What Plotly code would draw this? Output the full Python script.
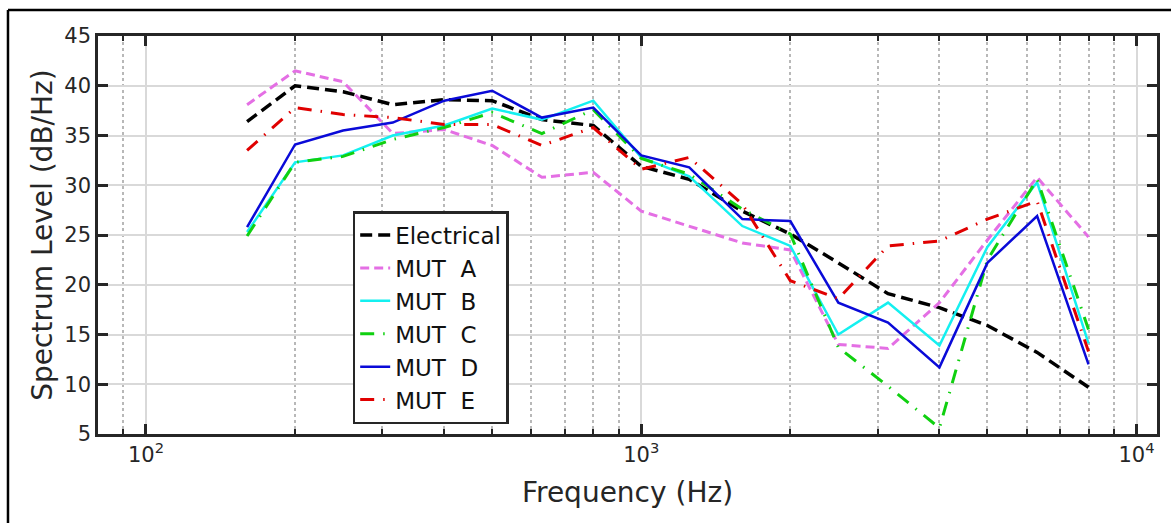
import math
import plotly.graph_objects as go

freqs = [160, 200, 250, 315, 400, 500, 630, 800, 1000, 1250, 1600, 2000, 2500, 3150, 4000, 5000, 6300, 8000]
electrical = [36.4, 40.0, 39.4, 38.1, 38.6, 38.5, 36.6, 36.0, 31.9, 30.6, 27.4, 25.1, 22.2, 19.1, 17.7, 15.9, 13.2, 9.7]
mut_a = [38.1, 41.5, 40.4, 35.2, 35.6, 34.0, 30.8, 31.3, 27.4, 25.9, 24.2, 23.5, 14.0, 13.6, 18.2, 24.5, 30.8, 24.8]
mut_b = [25.3, 32.3, 33.0, 35.0, 36.0, 37.7, 36.6, 38.5, 32.8, 30.9, 25.9, 23.9, 15.0, 18.2, 13.9, 23.8, 30.3, 14.1]
mut_c = [24.9, 32.3, 32.9, 34.6, 35.8, 37.3, 35.2, 37.6, 32.7, 31.1, 27.6, 25.1, 13.7, 9.8, 5.6, 22.5, 30.6, 15.5]
mut_d = [25.8, 34.1, 35.5, 36.3, 38.5, 39.5, 36.8, 37.8, 33.0, 31.8, 26.6, 26.4, 18.2, 16.2, 11.7, 22.2, 26.9, 12.0]
mut_e = [33.5, 37.8, 37.1, 36.8, 36.1, 36.1, 34.0, 35.8, 31.6, 32.8, 28.1, 20.4, 18.6, 23.9, 24.4, 26.6, 28.4, 13.3]

series_names = ["Electrical", "MUT\u00a0\u00a0A", "MUT\u00a0\u00a0B", "MUT\u00a0\u00a0C", "MUT\u00a0\u00a0D", "MUT\u00a0\u00a0E"]
series_values = [electrical, mut_a, mut_b, mut_c, mut_d, mut_e]
series_colors = ["#000000", "#E46FE4", "#14F0F0", "#10D010", "#0A0AD8", "#E00000"]
series_dash = ["12px,6px", "9px,5px", "solid", "14px,9px,1.5px,9px", "solid", "14px,9px,1.5px,9px"]
series_width = [3.5, 3, 2.5, 3, 2.5, 3]

x_major = [100, 1000, 10000]
x_major_text = ["10<sup>2</sup>", "10<sup>3</sup>", "10<sup>4</sup>"]
x_minor = [90] + [m * 100 for m in range(2, 10)] + [m * 1000 for m in range(2, 10)]

fig = go.Figure()
for i, (name, vals) in enumerate(zip(series_names, series_values)):
    fig.add_trace(go.Scatter(
        x=freqs, y=vals, mode="lines", name=name, legendgroup=f"g{i}",
        line=dict(color=series_colors[i], width=series_width[i], dash=series_dash[i]),
    ))

axis_color = "#262626"
font_family = "DejaVu Sans"

fig.update_layout(
    width=1171, height=523,
    margin=dict(l=98, r=14, t=36, b=89),
    paper_bgcolor="white", plot_bgcolor="white",
    font=dict(family=font_family, color=axis_color, size=21),
    showlegend=True,
    legend=dict(
        x=0.2405, y=0.560, xanchor="left", yanchor="top",
        bgcolor="white", bordercolor=axis_color, borderwidth=2.5,
        font=dict(size=23, color="#111111"), tracegroupgap=0,
    ),
    xaxis=dict(
        type="log", range=[math.log10(80), math.log10(11000)],
        tickmode="array", tickvals=x_major, ticktext=x_major_text,
        ticks="inside", ticklen=10, tickwidth=2.5, tickcolor=axis_color,
        showline=True, linecolor=axis_color, linewidth=2.5, mirror="allticks",
        showgrid=True, gridcolor="#d9d9d9", gridwidth=2,
        zeroline=False,
        tickfont=dict(size=21, color=axis_color),
        minor=dict(tickmode="array", tickvals=x_minor, ticks="inside", ticklen=5,
                   tickwidth=2, tickcolor=axis_color, showgrid=True,
                   gridcolor="#b8b8b8", gridwidth=1.8, griddash="dot"),
        title=dict(text="Frequency (Hz)", font=dict(size=28, color=axis_color), standoff=17),
    ),
    yaxis=dict(
        range=[5, 45], tickmode="array", tickvals=list(range(5, 50, 5)),
        ticks="inside", ticklen=10, tickwidth=2.5, tickcolor=axis_color,
        showline=True, linecolor=axis_color, linewidth=2.5, mirror="allticks",
        showgrid=True, gridcolor="#d9d9d9", gridwidth=2,
        zeroline=False,
        tickfont=dict(size=21, color=axis_color),
        title=dict(text="Spectrum Level (dB/Hz)", font=dict(size=28, color=axis_color), standoff=4),
    ),
)

# outer frame (only top and left edges visible)
fig.add_shape(type="line", xref="paper", yref="paper", x0=-0.085, x1=1.05, y0=1.0653, y1=1.0653,
              line=dict(color="black", width=2.5))
fig.add_shape(type="line", xref="paper", yref="paper", x0=-0.085, x1=-0.085, y0=1.0653, y1=-0.3,
              line=dict(color="black", width=2.5))

fig.write_html("out.html")
